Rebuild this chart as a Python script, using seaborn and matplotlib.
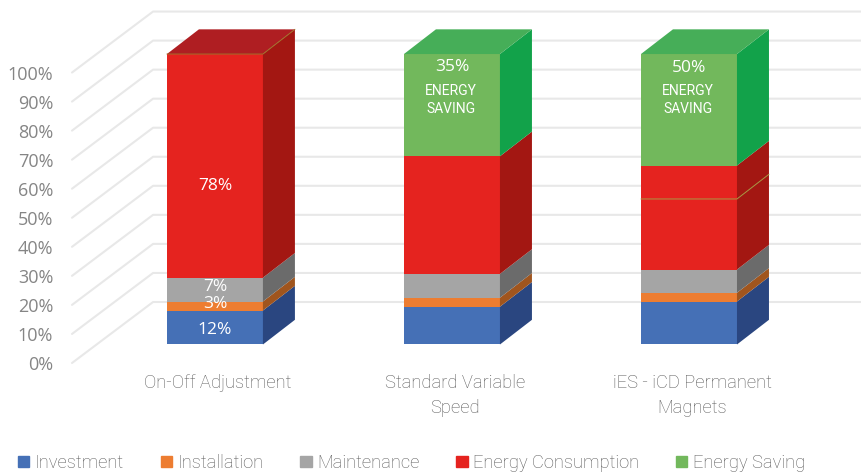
import numpy as np
import pandas as pd
import seaborn as sns
import matplotlib.pyplot as plt
from matplotlib.patches import Patch
from matplotlib.transforms import ScaledTranslation

configs = ["On-Off Adjustment", "Standard Variable\nSpeed", "iES - iCD Permanent\nMagnets"]
segments = ["Investment", "Installation", "Maintenance", "Energy Consumption", "Energy Saving"]

investment = [11.7, 13.0, 14.8]
installation = [3.1, 3.1, 3.0]
maintenance = [8.2, 8.2, 8.0]
consumption = [77.0, 40.5, 35.8]
saving = [0.0, 35.2, 38.4]
seam_value = 50.1  # thin line across the red block of the third bar

pct_ticks = list(range(0, 101, 10))

front_colors = ["#4570B6", "#ED7D31", "#A5A5A5", "#E5231F", "#72B85C"]
side_colors = ["#2A4680", "#A0551E", "#6B6B6B", "#A31712", "#12A24A"]
top_colors = ["#2F4F8F", "#B0601F", "#7A7A7A", "#AF1E22", "#46AE58"]

# label text, bar index, height on the percent scale
value_labels = [("12%", 0, 5.0), ("3%", 0, 14.0), ("7%", 0, 19.8), ("78%", 0, 54.4),
                ("35%", 1, 95.4), ("50%", 2, 95.2)]
saving_labels = [("ENERGY\nSAVING", 1), ("ENERGY\nSAVING", 2)]

BAR_W = 0.405
DEPTH_X = 0.135
DEPTH_Y = 8.5
WALL_X = 0.342
WALL_Y = 21.0
FLOOR = -6.37

stack = np.cumsum([investment, installation, maintenance, consumption, saving], axis=0)
rows = []
for s, name in enumerate(segments):
    for c, conf in enumerate(configs):
        rows.append({"config": conf, "segment": name, "top": stack[s, c]})
df = pd.DataFrame(rows)

sns.set_theme(style="white")
plt.rcParams["font.family"] = ["Roboto", "DejaVu Sans"]

fig = plt.figure(figsize=(8.62, 4.75), dpi=100)
ax = fig.add_axes([72 / 862, 112 / 475, 790 / 862, 363 / 475])

# drawn tallest first so the shorter segments sit on top
sns.barplot(data=df, x="config", y="top", hue="segment", hue_order=segments[::-1],
            palette=dict(zip(segments, front_colors)), dodge=False, width=BAR_W,
            legend=False, saturation=1, linewidth=0, ax=ax, zorder=3)

ax.set_xlim(-0.603, 2.73)
ax.set_ylim(FLOOR, 118.6)

# back wall grid
for v in pct_ticks:
    ax.plot([-0.603, -0.603 + WALL_X, 2.73], [v + FLOOR, v + FLOOR + WALL_Y, v + FLOOR + WALL_Y],
            color="#E8E8E8", lw=1.5, zorder=1, clip_on=False)

# side and top faces
for c in range(len(configs)):
    right = c + BAR_W / 2
    left = c - BAR_W / 2
    prev = 0
    for s in range(len(segments)):
        t = stack[s, c]
        if t - prev > 0:
            ax.fill([right, right + DEPTH_X, right + DEPTH_X, right],
                    [prev, prev + DEPTH_Y, t + DEPTH_Y, t],
                    color=side_colors[s], lw=0, zorder=4)
            last = s
        prev = t
    t = stack[-1, c]
    ax.fill([left, right, right + DEPTH_X, left + DEPTH_X],
            [t, t, t + DEPTH_Y, t + DEPTH_Y],
            color=top_colors[last], lw=0, zorder=4)

# hairlines seen in the picture
ax.plot([-BAR_W / 2, BAR_W / 2, BAR_W / 2 + DEPTH_X], [stack[-1, 0], stack[-1, 0], stack[-1, 0] + DEPTH_Y],
        color="#A0702A", lw=0.7, zorder=5)
ax.plot([2 - BAR_W / 2, 2 + BAR_W / 2, 2 + BAR_W / 2 + DEPTH_X], [seam_value, seam_value, seam_value + DEPTH_Y],
        color="#A89A45", lw=0.7, zorder=5)

for text, c, y in value_labels:
    ax.text(c, y, text, color="white", fontsize=12.5, family="Open Sans", ha="center", va="center", zorder=6)
for text, c in saving_labels:
    ax.text(c - 0.005, 84.3, text, color="white", fontsize=10, ha="center", va="center",
            linespacing=1.35, zorder=6)

ax.set_xlabel("")
ax.set_ylabel("")
ax.set_xticks(range(len(configs)), configs)
ax.set_yticks([v + FLOOR for v in pct_ticks], [f"{v}%" for v in pct_ticks])
ax.tick_params(axis="x", length=0, pad=8, labelsize=13.2, labelcolor="#5A5A5A")
ax.tick_params(axis="y", length=0, pad=13.5, labelsize=13, labelcolor="#858585")
nudge = ScaledTranslation(3 / 100, 0, fig.dpi_scale_trans)
for lab in ax.get_xticklabels():
    lab.set_fontweight("light")
    lab.set_linespacing(1.5)
    lab.set_transform(lab.get_transform() + nudge)
for lab in ax.get_yticklabels():
    lab.set_family("Open Sans")
sns.despine(ax=ax, left=True, bottom=True)

handles = [Patch(color=col, label=name) for col, name in zip(front_colors, segments)]
fig.legend(handles=handles, loc="center left", bbox_to_anchor=(18 / 862, 1 - 463 / 475), ncol=5, frameon=False,
           labelcolor="#5A5A5A", handlelength=0.62, handleheight=0.62,
           handletextpad=0.3, columnspacing=2.0, borderpad=0, borderaxespad=0,
           prop={"size": 13.2, "weight": "light"})

fig.savefig("out.png", dpi=100)
